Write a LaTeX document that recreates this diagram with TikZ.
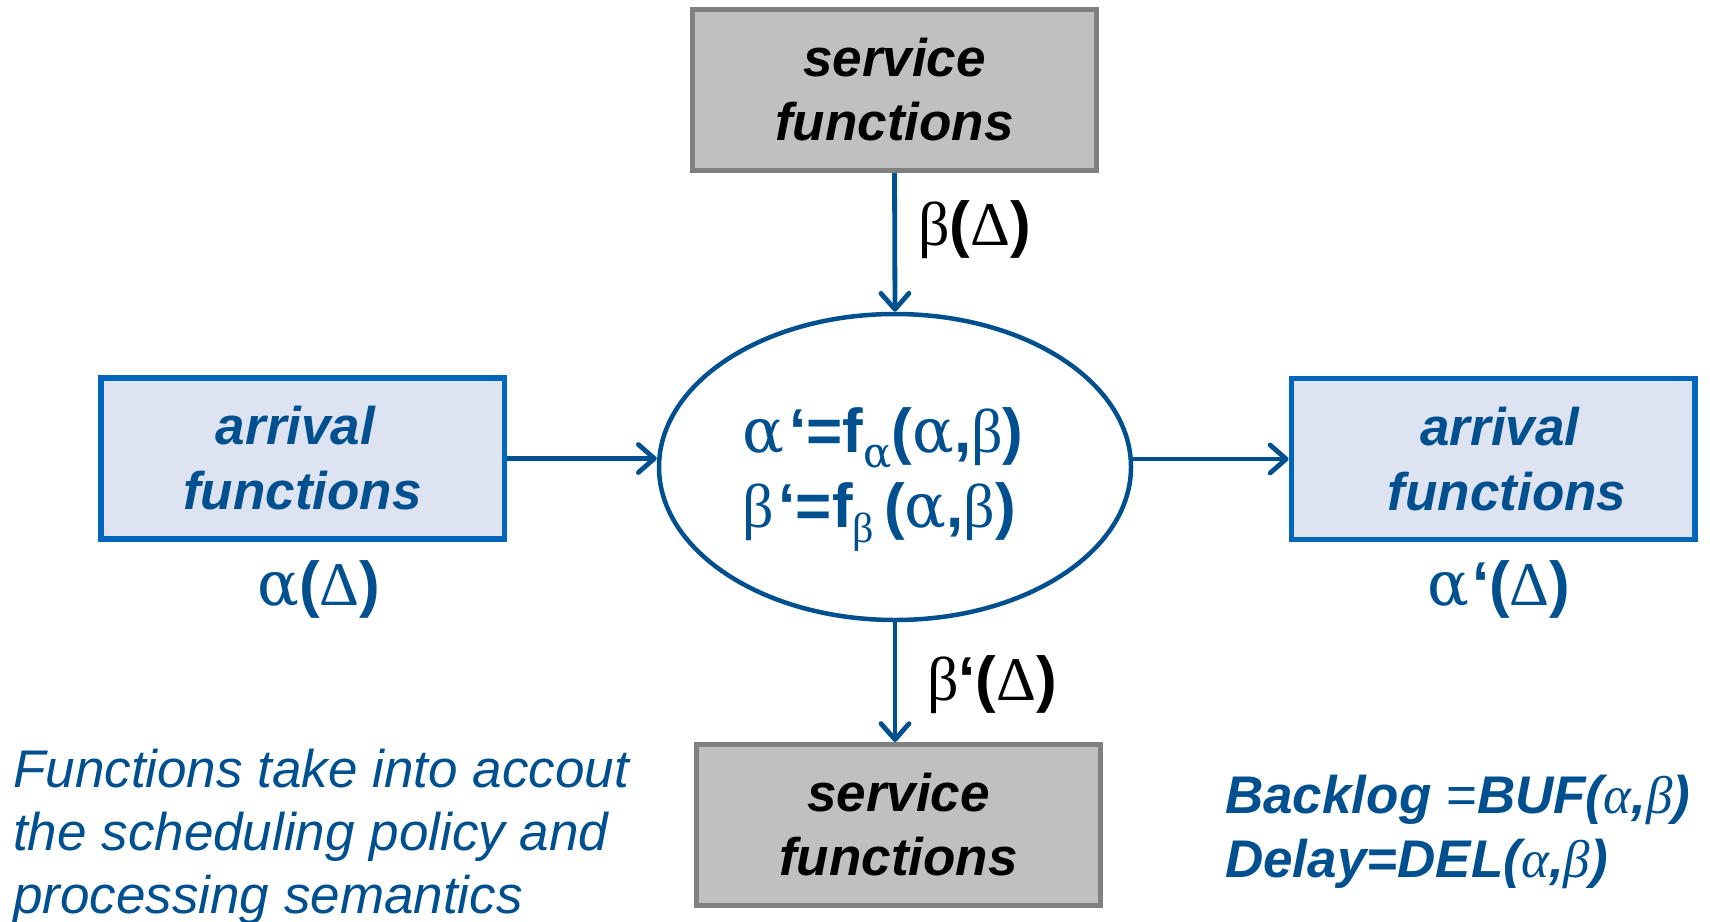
\documentclass[tikz,border=0pt]{standalone}
\usepackage{fontspec}
\setmainfont{Liberation Sans}
\newfontfamily\gr{Liberation Serif}
\newfontfamily\gra{DejaVu Serif}
\usetikzlibrary{shapes.geometric,arrows.meta}
\definecolor{tblue}{HTML}{00508F}
\definecolor{bborder}{HTML}{0066BB}
\definecolor{bfill}{HTML}{DEE3F1}
\definecolor{gfill}{HTML}{C0C0C0}
\definecolor{gborder}{HTML}{808080}
\newcommand{\g}[1]{{\gr\mdseries #1}}
\newcommand{\ga}{{\gra\mdseries α}}
\begin{document}
\begin{tikzpicture}[x=1pt,y=-1pt,
 servbox/.style={draw=gborder, fill=gfill, line width=5pt, minimum width=404pt, minimum height=161pt, inner sep=0pt, align=center, font=\fontsize{53}{64}\selectfont\bfseries\itshape, text=black},
 arrbox/.style={draw=bborder, fill=bfill, line width=5.5pt, minimum width=403.5pt, minimum height=161pt, inner sep=0pt, align=center, font=\fontsize{53}{65}\selectfont\bfseries\itshape, text=tblue},
 flow/.style={draw=tblue, line width=4.8pt, -{Straight Barb[length=16pt,width=28pt,line cap=round,line join=round]}},
 lbl/.style={anchor=base west, inner sep=0pt, font=\fontsize{62}{75}\selectfont\bfseries},
 txt/.style={anchor=base west, inner sep=0pt, text=tblue},
]
\useasboundingbox (0,0) rectangle (1710,921);

\node[servbox] (stop) at (894.5,90) {service\\functions};
\node[arrbox] (ain) at (302.5,458.5) {\hspace*{-14pt}arrival\\functions};
\node[arrbox] (aout) at (1493,459) {\hspace*{14pt}arrival\\\hspace*{28pt}functions};
\node[servbox] (sbot) at (898.5,825) {service\\functions};
\node[ellipse, draw=tblue, line width=4.5pt, minimum width=472pt, minimum height=306pt, inner sep=0pt] (proc) at (895,467) {};

\node[txt, font=\fontsize{62}{75}\selectfont\bfseries] (eqs) at (742,452) {\begin{tabular}[t]{@{}l@{}}\ga\hspace{5pt}‘=f\raisebox{-15pt}{\fontsize{42}{42}\selectfont\ga}(\ga,\g{β})\\
\g{β}\hspace{5pt}‘=f\raisebox{-15pt}{\fontsize{42}{42}\selectfont\g{β}}\hspace{10pt}(\ga,\g{β})\end{tabular}};

\draw[flow] (stop.south) -- (proc.north);
\draw[flow] (ain.east) -- (ain.east -| proc.west);
\draw[flow] (proc.east |- aout.west) -- (aout.west);
\draw[flow] (proc.south) -- (proc.south |- sbot.north);

\node[lbl, text=black] (lbeta) at (918,245) {\g{β}(\g{Δ})};
\node[lbl, text=black] (lbetap) at (927,700) {\g{β}‘(\g{Δ})};
\node[lbl, text=tblue] (lalpha) at (257,605) {\ga(\g{Δ})};
\node[lbl, text=tblue] (lalphap) at (1427,605) {\ga\hspace{3pt}‘(\g{Δ})};

\node[txt, font=\fontsize{53}{63}\selectfont\itshape] (note) at (13,787) {\begin{tabular}[t]{@{}l@{}}Functions take into accout\\the scheduling policy and\\processing semantics\end{tabular}};

\node[txt, font=\fontsize{53}{64}\selectfont\bfseries\itshape] (perf) at (1225,813) {\begin{tabular}[t]{@{}l@{}}Backlog {\mdseries\upshape =}BUF(\g{α},\g{β})\\Delay=DEL(\g{α},\g{β})\end{tabular}};
\end{tikzpicture}
\end{document}
